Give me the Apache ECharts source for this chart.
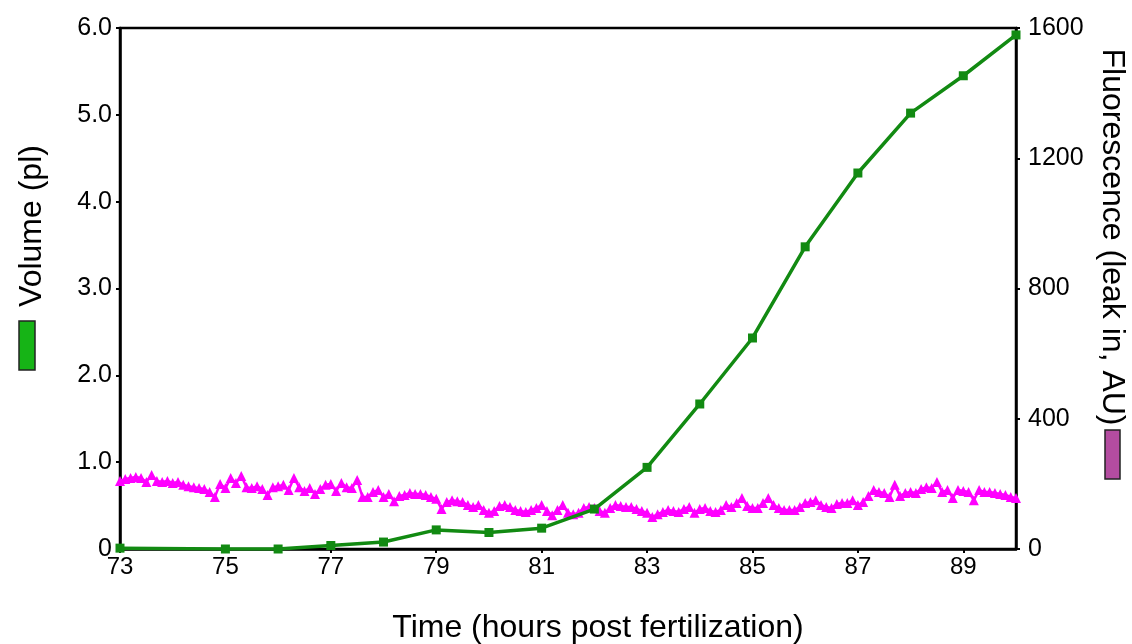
<!DOCTYPE html>
<html>
<head>
<meta charset="utf-8">
<script src="https://cdn.jsdelivr.net/npm/echarts@6/dist/echarts.min.js"></script>
<style>
html,body{margin:0;padding:0;background:#fff;}
#c{width:1132px;height:644px;}
</style>
</head>
<body>
<div id="c"></div>
<script>
// Volume (pl), green series
const volumeHours = [73, 75, 76, 77, 78, 79, 80, 81, 82, 83, 84, 85, 86, 87, 88, 89, 90];
const volumeValues = [0.01, 0, 0, 0.04, 0.08, 0.22, 0.19, 0.24, 0.46, 0.94, 1.67, 2.43, 3.48, 4.33, 5.02, 5.45, 5.92];

// Fluorescence (AU), magenta series, sampled every 0.1 h from 73 h to 90 h
const fluoStartHour = 73;
const fluoStepHour = 0.1;
const fluoValues = [
  209, 215, 218, 221, 218, 206, 227, 209, 206, 209,
  203, 206, 197, 193, 190, 187, 184, 175, 160, 200,
  187, 218, 203, 224, 190, 187, 193, 184, 166, 190,
  193, 197, 181, 218, 190, 178, 187, 169, 184, 197,
  200, 178, 203, 190, 187, 212, 160, 160, 175, 181,
  160, 169, 147, 163, 166, 172, 169, 169, 166, 160,
  154, 123, 144, 150, 147, 144, 135, 129, 135, 120,
  111, 117, 132, 135, 129, 120, 117, 114, 120, 126,
  135, 117, 104, 120, 135, 111, 107, 111, 126, 129,
  126, 117, 111, 126, 135, 132, 129, 129, 123, 117,
  111, 98, 107, 114, 120, 117, 114, 123, 129, 111,
  123, 126, 117, 114, 120, 135, 129, 141, 157, 132,
  126, 126, 141, 157, 135, 126, 120, 120, 120, 129,
  141, 144, 150, 135, 129, 126, 138, 141, 141, 150,
  135, 144, 163, 181, 175, 172, 160, 197, 163, 172,
  175, 172, 184, 190, 187, 206, 175, 181, 157, 181,
  178, 175, 150, 181, 175, 175, 172, 169, 166, 160,
  157
];

// Axis settings
const xTicks = {min: 73, max: 90, interval: 2};
const leftTicks = {min: 0, max: 6, interval: 1};
const rightTicks = {min: 0, max: 1600, interval: 400};

const titleX = 'Time (hours post fertilization)';
const titleLeft = 'Volume (pl)';
const titleRight = 'Fluorescence (leak in, AU)';

const volumeData = volumeHours.map((h, i) => [h, volumeValues[i]]);
const fluoData = fluoValues.map((v, i) => [+(fluoStartHour + i * fluoStepHour).toFixed(2), v]);

const FONT = 'Liberation Sans, Arial, sans-serif';
const chart = echarts.init(document.getElementById('c'));
chart.setOption({
  animation: false,
  backgroundColor: '#fff',
  grid: {left: 120, right: 116, top: 28, bottom: 95, show: true, borderColor: '#000', borderWidth: 2.5, backgroundColor: 'transparent'},
  xAxis: {
    type: 'value', min: xTicks.min, max: xTicks.max, interval: xTicks.interval,
    axisLine: {show: true, lineStyle: {color: '#000', width: 2.5}},
    axisTick: {show: true, length: 4, lineStyle: {color: '#000', width: 2}},
    axisLabel: {color: '#000', fontSize: 24, fontFamily: FONT, margin: 6, showMaxLabel: false},
    splitLine: {show: false}
  },
  yAxis: [{
    type: 'value', position: 'left', min: leftTicks.min, max: leftTicks.max, interval: leftTicks.interval,
    axisLine: {show: true, lineStyle: {color: '#000', width: 2.5}},
    axisTick: {show: true, length: 4, lineStyle: {color: '#000', width: 2}},
    axisLabel: {color: '#000', fontSize: 25, fontFamily: FONT, margin: 8,
      formatter: v => v === 0 ? '0' : v.toFixed(1)},
    splitLine: {show: false}
  }, {
    type: 'value', position: 'right', min: rightTicks.min, max: rightTicks.max, interval: rightTicks.interval,
    axisLine: {show: true, lineStyle: {color: '#000', width: 2.5}},
    axisTick: {show: true, length: 4, lineStyle: {color: '#000', width: 2}},
    axisLabel: {color: '#000', fontSize: 25, fontFamily: FONT, margin: 12, formatter: v => String(v)},
    splitLine: {show: false}
  }],
  series: [{
    type: 'line', yAxisIndex: 1, data: fluoData,
    symbol: 'triangle', symbolSize: 10, showAllSymbol: true,
    lineStyle: {color: '#ff00ff', width: 2.5},
    itemStyle: {color: '#ff00ff'}, z: 2
  }, {
    type: 'line', yAxisIndex: 0, data: volumeData,
    symbol: 'rect', symbolSize: 9, showAllSymbol: true,
    lineStyle: {color: '#128a12', width: 3.5},
    itemStyle: {color: '#128a12'}, z: 3
  }],
  graphic: [
    {type: 'text', x: 598, y: 628, style: {text: titleX, fontSize: 32, fontFamily: FONT, fill: '#000', align: 'center', verticalAlign: 'middle'}},
    {type: 'text', x: 32, y: 226, rotation: Math.PI / 2, style: {text: titleLeft, fontSize: 32, fontFamily: FONT, fill: '#000', align: 'center', verticalAlign: 'middle'}},
    {type: 'rect', shape: {x: 19, y: 321, width: 16, height: 49}, style: {fill: '#16b416', stroke: '#222', lineWidth: 1.5}},
    {type: 'text', x: 1112, y: 237, rotation: -Math.PI / 2, style: {text: titleRight, fontSize: 32, fontFamily: FONT, fill: '#000', align: 'center', verticalAlign: 'middle'}},
    {type: 'rect', shape: {x: 1105, y: 430, width: 15, height: 49}, style: {fill: '#b44ca0', stroke: '#222', lineWidth: 1.5}}
  ]
});
</script>
</body>
</html>
